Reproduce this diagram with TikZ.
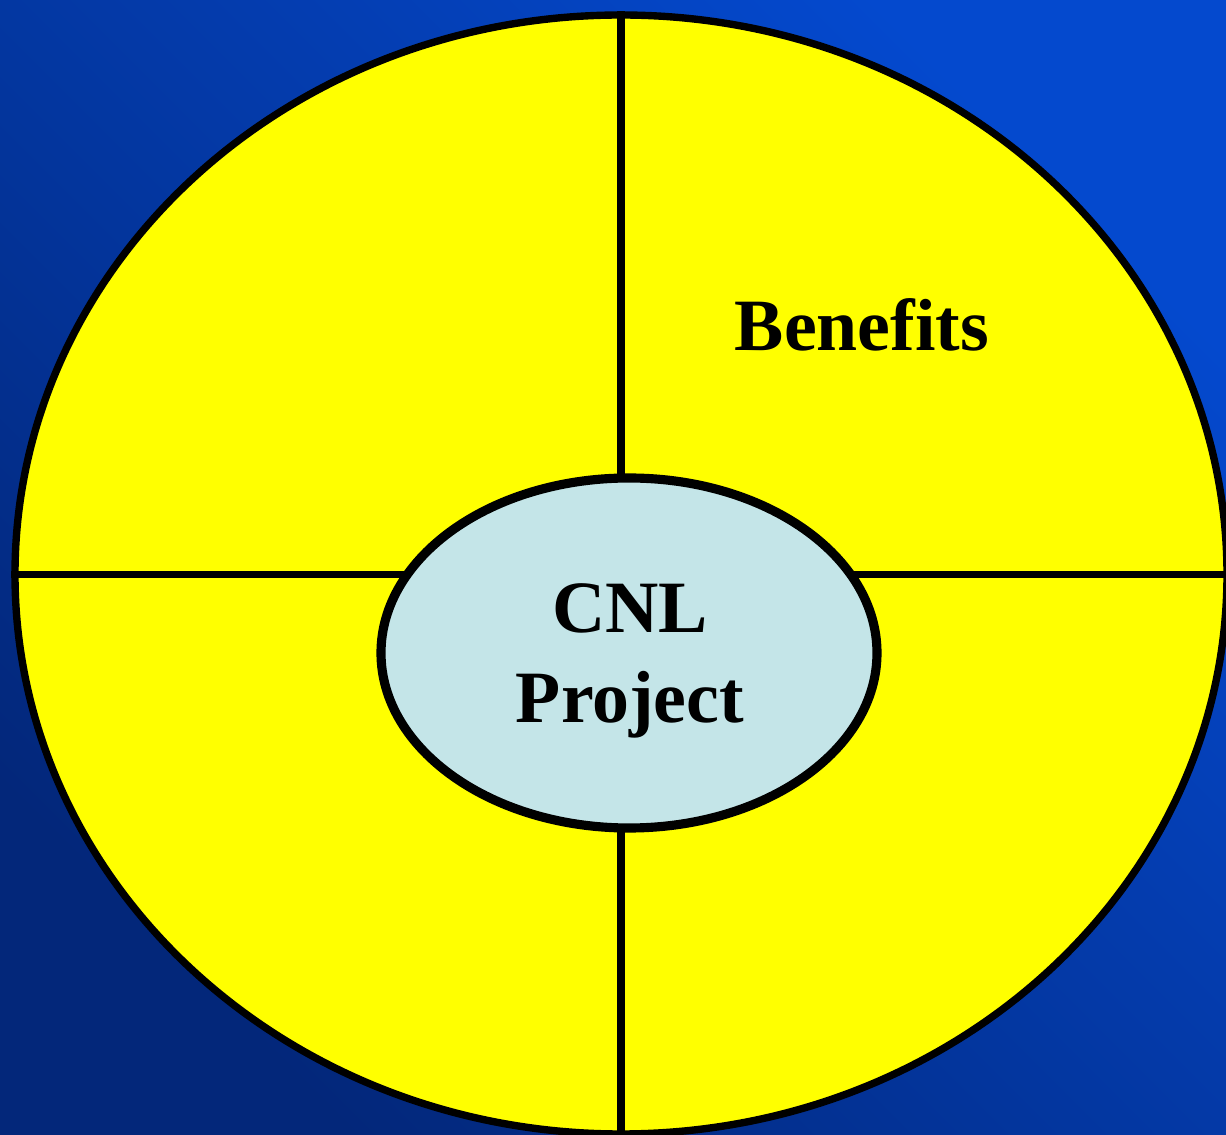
\documentclass[tikz,border=0pt]{standalone}
\usepackage{fontspec}
\setmainfont{Liberation Serif}
\usepackage{tikz}
\usetikzlibrary{shapes,
           calc,
           positioning}
\pgfdeclarelayer{foreground}
\pgfsetlayers{main,foreground}
\definecolor{bgdark}{RGB}{3,39,122}
\definecolor{bglight}{RGB}{4,73,206}
\definecolor{jaune}{RGB}{255,255,0}
\definecolor{cyanpale}{RGB}{196,229,232}
\tikzset{
  disque/.style={ellipse,draw=black,line width=2.1pt,inner sep=0pt},
  trait/.style={draw=black,line width=2.1pt},
  titre/.style={font=\bfseries\fontsize{21}{25.5}\selectfont,align=center}
}

\begin{document}
\begin{tikzpicture}
\shade[shading=axis,top color=bglight,bottom color=bgdark,shading angle=-45](0,0)rectangle(12.26,-11.35);
\useasboundingbox(0,0)rectangle(12.26,-11.35);
\node[disque,fill=jaune,minimum width=12.12cm,minimum height=11.19cm](outer)at(6.21,-5.745){};
% le noyau par-dessus les traits
\begin{pgfonlayer}{foreground}
\node[disque,fill=cyanpale,line width=2.6pt,minimum width=4.96cm,minimum height=3.50cm](cnl)at(6.29,-6.53){};
\node[titre](projet)at($(cnl.center)+(0.01,-0.08)$){CNL\\Project};
\end{pgfonlayer}
\draw[trait](outer.north)--(outer.north |- cnl.center);
\draw[trait](outer.south)--(outer.south |- cnl.center);
\draw[trait](outer.west)--(outer.west -| cnl.center);
\draw[trait](outer.east)--(outer.east -| cnl.center);
\node[titre](benef)at(8.62,-3.25){Benefits};
\end{tikzpicture}
\end{document}
